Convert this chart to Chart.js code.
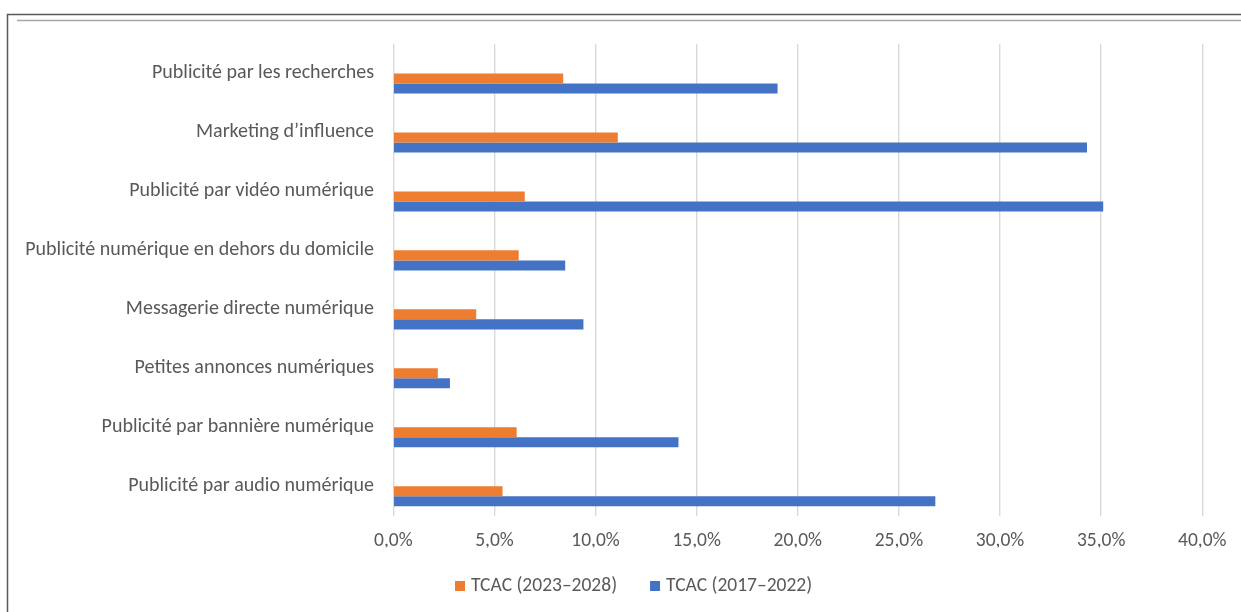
<!DOCTYPE html>
<html lang="fr">
<head>
<meta charset="utf-8">
<title>TCAC publicité numérique</title>
<script src="https://cdn.jsdelivr.net/npm/chart.js@4/dist/chart.umd.min.js"></script>
<style>
  html, body { margin: 0; padding: 0; background: #fff; }
  canvas { display: block; }
</style>
</head>
<body>
<canvas id="tcacChart" width="1241" height="612"></canvas>
<script>
const categories = [
    'Publicité par les recherches',
    'Marketing d’influence',
    'Publicité par vidéo numérique',
    'Publicité numérique en dehors du domicile',
    'Messagerie directe numérique',
    'Petites annonces numériques',
    'Publicité par bannière numérique',
    'Publicité par audio numérique'
];
const tcac2023_2028 = [8.4, 11.1, 6.5, 6.2, 4.1, 2.2, 6.1, 5.4];
const tcac2017_2022 = [19.0, 34.3, 35.1, 8.5, 9.4, 2.8, 14.1, 26.8];
const xMin = 0, xMax = 40, xStep = 5;

const FONT = 'Carlito, "Liberation Sans", Arial, sans-serif';
const FONT_SIZE = 19.5;
const TEXT = '#595959';

// frame lines around the chart
const framePlugin = {
    id: 'frame',
    beforeDraw(chart) {
        const c = chart.ctx;
        c.save();
        c.strokeStyle = '#5a5a5a';
        c.lineWidth = 1.5;
        c.beginPath();
        c.moveTo(7.5, 612);
        c.lineTo(7.5, 14.5);
        c.lineTo(1241, 14.5);
        c.stroke();
        c.strokeStyle = '#a6a6a6';
        c.lineWidth = 1.3;
        c.beginPath();
        c.moveTo(17, 20.5);
        c.lineTo(1241, 20.5);
        c.stroke();
        c.restore();
    }
};

// legend row under the axis, square markers then the series names
const legendRowPlugin = {
    id: 'legendRow',
    afterDraw(chart) {
        const c = chart.ctx;
        c.save();
        c.font = FONT_SIZE + 'px ' + FONT;
        c.textBaseline = 'middle';
        c.textAlign = 'left';
        let x = 455;
        const y = 586;
        chart.data.datasets.forEach(ds => {
            if (!ds.label) return;
            c.fillStyle = ds.backgroundColor;
            c.fillRect(x, y - 5, 10, 10);
            c.fillStyle = TEXT;
            c.fillText(ds.label, x + 16, y);
            x += 16 + c.measureText(ds.label).width + 33;
        });
        c.restore();
    }
};

const ctx = document.getElementById('tcacChart').getContext('2d');
const tcacChart = new Chart(ctx, {
    type: 'bar',
    data: {
        labels: categories,
        datasets: [
            // two empty series keep the bar slots of the original layout
            { label: '', data: [] },
            { label: '', data: [] },
            {
                label: 'TCAC (2023–2028)',
                data: tcac2023_2028,
                backgroundColor: '#ED7D31'
            },
            {
                label: 'TCAC (2017–2022)',
                data: tcac2017_2022,
                backgroundColor: '#4472C4'
            }
        ]
    },
    options: {
        indexAxis: 'y',
        responsive: false,
        animation: false,
        categoryPercentage: 0.68,
        barPercentage: 1,
        layout: {
            padding: { top: 44, right: 38.7, bottom: 64.5, left: 0 }
        },
        scales: {
            x: {
                min: xMin,
                max: xMax,
                ticks: {
                    stepSize: xStep,
                    padding: 13.6,
                    color: TEXT,
                    font: { family: FONT, size: FONT_SIZE },
                    callback: v => v.toFixed(1).replace('.', ',') + '%'
                },
                grid: { color: '#d9d9d9', lineWidth: 1.4, drawTicks: false },
                border: { display: false },
                afterFit(scale) { scale.height = 31.8; }
            },
            y: {
                ticks: {
                    padding: 19.3,
                    color: TEXT,
                    font: { family: FONT, size: 20 }
                },
                grid: { display: false, drawTicks: false },
                border: { display: false },
                afterFit(scale) { scale.width = 393.3; }
            }
        },
        plugins: {
            legend: { display: false },
            tooltip: { enabled: false }
        }
    },
    plugins: [framePlugin, legendRowPlugin]
});
</script>
</body>
</html>
